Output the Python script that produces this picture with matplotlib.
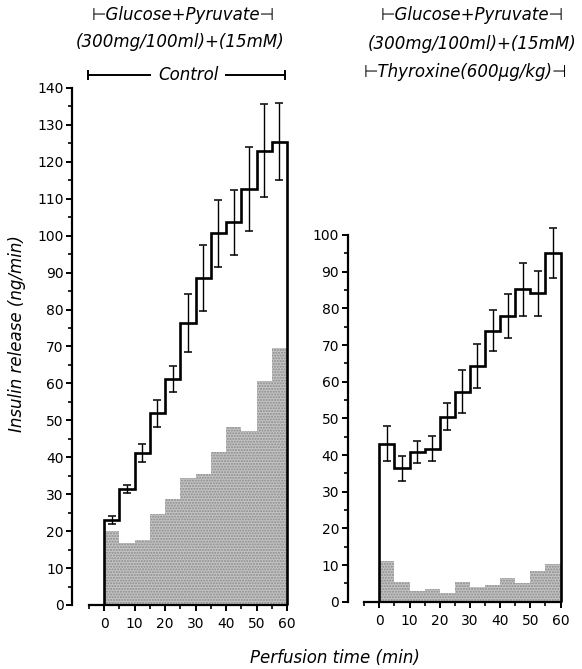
import numpy as np
import matplotlib
matplotlib.use("Agg")
import matplotlib.pyplot as plt
from matplotlib.ticker import MultipleLocator


# ==========================================
# Data (5 min fractions, 0-60 min)
# ==========================================

edges = [0, 5, 10, 15, 20, 25, 30, 35, 40, 45, 50, 55, 60]

control_mean = [23.0, 31.4, 41.2, 51.9, 61.2, 76.3, 88.6, 100.6, 103.6, 112.6, 123.0, 125.5]
control_err = [1.0, 1.0, 2.5, 3.6, 3.6, 7.8, 9.0, 9.0, 8.8, 11.3, 12.6, 10.4]
control_shade = [20.0, 16.8, 17.7, 24.7, 28.6, 34.3, 35.6, 41.4, 48.2, 47.0, 60.7, 69.5]

thyro_mean = [43.1, 36.4, 40.8, 41.7, 50.5, 57.3, 64.3, 73.9, 77.9, 85.2, 84.1, 95.2]
thyro_err = [4.8, 3.4, 2.9, 3.4, 3.8, 5.9, 6.0, 5.6, 6.1, 7.2, 6.1, 6.8]
thyro_shade = [11.0, 5.5, 2.9, 3.5, 2.5, 5.5, 4.1, 4.6, 6.4, 5.0, 8.4, 10.3]

x_ticks = [0, 10, 20, 30, 40, 50, 60]
left_yticks = list(range(0, 150, 10))
right_yticks = list(range(0, 110, 10))


# ==========================================
# Figure
# ==========================================

fig = plt.figure(figsize=(5.82, 6.69), dpi=100)

ax1 = fig.add_axes([0.1525, 0.0957, 0.3433, 0.7728])
ax2 = fig.add_axes([0.6258, 0.1006, 0.3399, 0.7674])


def draw_panel(ax, mean, err, shade, yticks):

    centers = (np.array(edges[:-1]) + np.array(edges[1:])) / 2

    ax.stairs(
        shade,
        edges,
        baseline=0,
        fill=True,
        facecolor="#c4c4c4",
        edgecolor="#8a8a8a",
        hatch="......",
        linewidth=0
    )

    ax.stairs(
        mean,
        edges,
        baseline=0,
        color="black",
        linewidth=1.9,
        clip_on=False
    )

    ax.errorbar(
        centers,
        mean,
        yerr=err,
        fmt="none",
        ecolor="black",
        elinewidth=1.0,
        capsize=3,
        capthick=1.1,
        clip_on=False
    )

    ax.set_xlim(-5, 60.5)
    ax.set_ylim(0, 140)

    for s in ["top", "right"]:
        ax.spines[s].set_visible(False)

    ax.spines["left"].set_position(("outward", 12))
    ax.spines["left"].set_bounds(0, yticks[-1])
    ax.spines["bottom"].set_bounds(-5, 60)
    ax.spines["left"].set_linewidth(1.6)
    ax.spines["bottom"].set_linewidth(1.6)

    ax.set_xticks(x_ticks)
    ax.set_yticks(yticks)
    ax.xaxis.set_minor_locator(MultipleLocator(5))
    ax.set_yticks([v + 5 for v in yticks[:-1]], minor=True)

    ax.tick_params(which="major", direction="out", length=4, width=1.4, labelsize=10)
    ax.tick_params(axis="x", which="major", pad=5)
    ax.tick_params(axis="y", which="major", pad=2)
    ax.tick_params(which="minor", direction="out", length=3, width=1.2)


draw_panel(ax1, control_mean, control_err, control_shade, left_yticks)
draw_panel(ax2, thyro_mean, thyro_err, thyro_shade, right_yticks)


# ==========================================
# Labels
# ==========================================

fig.text(0.030, 0.502, "Insulin release (ng/min)", rotation=90,
         ha="center", va="center", fontsize=12, style="italic")

fig.text(0.576, 0.016, "Perfusion time (min)",
         ha="center", va="center", fontsize=12, style="italic")

fig.text(0.314, 0.978, "\u22a2Glucose+Pyruvate\u22a3",
         ha="center", va="center", fontsize=12, style="italic")
fig.text(0.309, 0.937, "(300mg/100ml)+(15mM)",
         ha="center", va="center", fontsize=12, style="italic")

fig.text(0.323, 0.888, "Control",
         ha="center", va="center", fontsize=12, style="italic")

fig.add_artist(plt.Line2D([88 / 582, 150 / 582], [0.888, 0.888], color="black", lw=1.4))
fig.add_artist(plt.Line2D([226 / 582, 285 / 582], [0.888, 0.888], color="black", lw=1.4))
fig.add_artist(plt.Line2D([88 / 582, 88 / 582], [0.882, 0.894], color="black", lw=1.4))
fig.add_artist(plt.Line2D([285 / 582, 285 / 582], [0.882, 0.894], color="black", lw=1.4))

fig.text(0.811, 0.978, "\u22a2Glucose+Pyruvate\u22a3",
         ha="center", va="center", fontsize=12, style="italic")
fig.text(0.812, 0.934, "(300mg/100ml)+(15mM)",
         ha="center", va="center", fontsize=12, style="italic")
fig.text(0.799, 0.892, "\u22a2Thyroxine(600\u00b5g/kg)\u22a3",
         ha="center", va="center", fontsize=12, style="italic")

fig.savefig("out.png", dpi=100)
